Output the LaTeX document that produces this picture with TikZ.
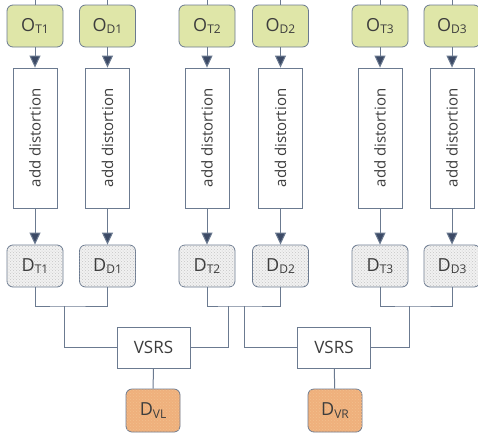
\documentclass[tikz,border=0pt]{standalone}
\usepackage{fontspec}
\setmainfont{Open Sans}
\usetikzlibrary{arrows.meta,patterns}
\definecolor{lnc}{HTML}{6B7A90}
\definecolor{tipc}{HTML}{3C4A66}
\definecolor{txtc}{HTML}{3D3D3D}
\definecolor{ofill}{HTML}{DFE6A8}
\definecolor{dfill}{HTML}{F1F1F1}
\definecolor{vfill}{HTML}{EFB07C}
\tikzset{>/.tip={Triangle[width=11pt,length=12pt,fill=tipc]},
  every node/.style={text=txtc},
  obox/.style={draw=lnc,thick,rounded corners=6pt,fill=ofill,minimum width=56pt,minimum height=42pt,inner sep=0pt},
  dbox/.style={obox,fill=dfill,postaction={pattern=crosshatch dots,pattern color=gray!45}},
  vbox/.style={obox,fill=vfill,minimum width=54pt,minimum height=43pt,postaction={pattern=crosshatch dots,pattern color=orange!60!brown!50}},
  distbox/.style={draw=lnc,thick,fill=white,rotate=90,minimum width=140pt,minimum height=44pt,inner sep=0pt,font=\fontsize{15}{17}\selectfont},
  vsbox/.style={draw=lnc,thick,fill=white,minimum width=73pt,minimum height=41pt,font=\fontsize{17}{19}\selectfont}}
\newcommand{\lbl}[2]{{\fontsize{18}{20}\selectfont #1}\raisebox{-0.5ex}{\fontsize{12}{14}\selectfont #2}}

\begin{document}
\begin{tikzpicture}[x=1pt,y=-1pt,line width=1pt,draw=lnc]
\useasboundingbox (0,0) rectangle (478,434);
\node[obox] (oT1) at (35,26) {\lbl{O}{T1}};
\node[obox] (oD1) at (107.5,26) {\lbl{O}{D1}};
\node[obox] (oT2) at (207,26) {\lbl{O}{T2}};
\node[obox] (oD2) at (280.5,26) {\lbl{O}{D2}};
\node[obox] (oT3) at (380,26) {\lbl{O}{T3}};
\node[obox] (oD3) at (452,26) {\lbl{O}{D3}};

\node[distbox] (aT1) at (35,138) {add distortion};
\node[distbox] (aD1) at (107.5,138) {add distortion};
\node[distbox] (aT2) at (207,138) {add distortion};
\node[distbox] (aD2) at (280.5,138) {add distortion};
\node[distbox] (aT3) at (380,138) {add distortion};
\node[distbox] (aD3) at (452,138) {add distortion};

\node[dbox] (dT1) at (35,266) {\lbl{D}{T1}};
\node[dbox] (dD1) at (107.5,266) {\lbl{D}{D1}};
\node[dbox] (dT2) at (207,266) {\lbl{D}{T2}};
\node[dbox] (dD2) at (280.5,266) {\lbl{D}{D2}};
\node[dbox] (dT3) at (380,266) {\lbl{D}{T3}};
\node[dbox] (dD3) at (452,266) {\lbl{D}{D3}};

\node[vsbox] (vsL) at (153.5,347.5) {VSRS};
\node[vsbox] (vsR) at (334,347.5) {VSRS};
\node[vbox] (dVL) at (153,410.5) {\lbl{D}{VL}};
\node[vbox] (dVR) at (335,410.5) {\lbl{D}{VR}};

\foreach \n in {T1,D1,T2,D2,T3,D3} {
  \draw (o\n.north) -- (o\n.north |- 0,0);
  \draw[->] (o\n) -- (a\n.east);
  \draw[->] (a\n.west) -- (d\n);
}

\coordinate (b1) at (64,306);
\coordinate (b2) at (228,306);
\coordinate (b3) at (244,306);
\coordinate (b4) at (409,306);
\draw (dT1.south) |- (b1) -| (dD1.south);
\draw (dT2.south) |- (b2) -- (b3) -| (dD2.south);
\draw (dT3.south) |- (b4) -| (dD3.south);
\draw (b1) |- (vsL.west);
\draw (b2) |- (vsL.east);
\draw (b3) |- (vsR.west);
\draw (b4) |- (vsR.east);
\draw (vsL) -- (dVL);
\draw (vsR) -- (dVR);
\end{tikzpicture}
\end{document}
